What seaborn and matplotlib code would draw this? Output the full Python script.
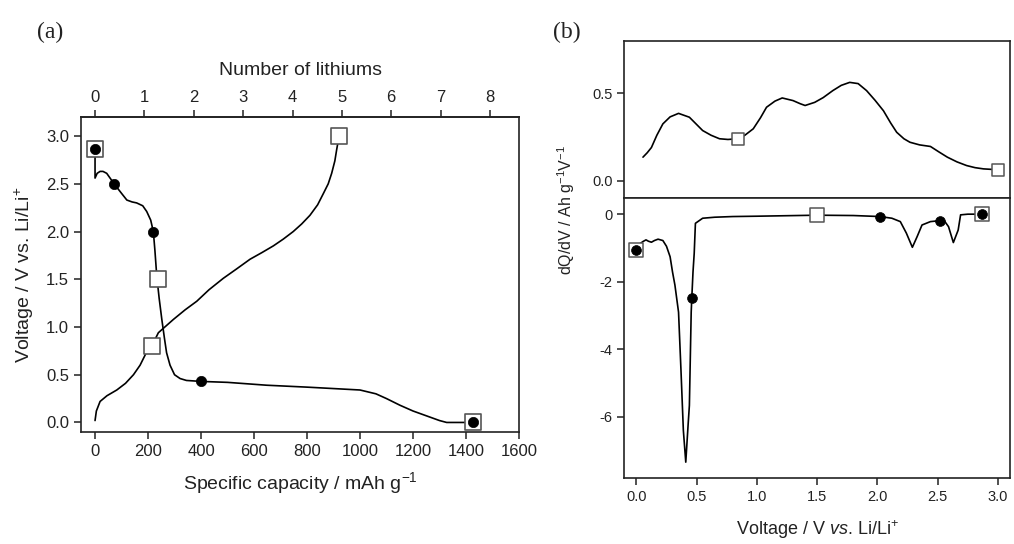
import matplotlib
matplotlib.use("Agg")
import matplotlib.pyplot as plt
import seaborn as sns
import numpy as np
import pandas as pd

# ---------------- data: panel (a) ----------------
dis_cap = [0, 0, 8, 19, 30, 44, 72, 100, 120, 140, 157, 180, 195, 210, 220, 226, 233, 242, 252, 262, 270, 283, 300, 321, 345, 400, 500, 648, 800, 900, 1000, 1060, 1100, 1151, 1200, 1260, 1300, 1327, 1380, 1427]
dis_v = [2.87, 2.56, 2.61, 2.63, 2.63, 2.61, 2.50, 2.40, 2.33, 2.31, 2.30, 2.27, 2.21, 2.12, 2.00, 1.80, 1.53, 1.30, 1.08, 0.88, 0.73, 0.60, 0.50, 0.46, 0.44, 0.43, 0.42, 0.39, 0.37, 0.355, 0.34, 0.30, 0.25, 0.18, 0.12, 0.06, 0.02, 0.0, 0.0, 0.0]

chg_cap = [0, 5, 19, 45, 82, 115, 145, 170, 195, 214, 239, 296, 340, 384, 430, 484, 535, 585, 630, 673, 710, 748, 780, 811, 840, 862, 880, 893, 905, 912, 921]
chg_v = [0.02, 0.12, 0.22, 0.28, 0.34, 0.41, 0.50, 0.60, 0.74, 0.80, 0.94, 1.08, 1.18, 1.27, 1.39, 1.51, 1.61, 1.71, 1.78, 1.85, 1.92, 2.00, 2.08, 2.17, 2.28, 2.40, 2.50, 2.61, 2.74, 2.86, 3.00]

a_sq_cap = [0, 214, 239, 921, 1427]
a_sq_v = [2.87, 0.80, 1.50, 3.00, 0.0]
a_ci_cap = [0, 72, 220, 400, 1427]
a_ci_v = [2.87, 2.50, 2.00, 0.43, 0.0]

cap_ticks = [0, 200, 400, 600, 800, 1000, 1200, 1400, 1600]
v_ticks = [0.0, 0.5, 1.0, 1.5, 2.0, 2.5, 3.0]
li_ticks = [0, 1, 2, 3, 4, 5, 6, 7, 8]
MAH_PER_LI = 186.3

# ---------------- data: panel (b) ----------------
chg_dv = [0.055, 0.09, 0.125, 0.17, 0.22, 0.28, 0.35, 0.44, 0.55, 0.62, 0.69, 0.76, 0.84, 0.90, 0.97, 1.03, 1.08, 1.15, 1.21, 1.30, 1.36, 1.40, 1.48, 1.55, 1.63, 1.70, 1.77, 1.84, 1.91, 1.98, 2.05, 2.11, 2.16, 2.22, 2.27, 2.35, 2.44, 2.51, 2.58, 2.66, 2.74, 2.81, 2.88, 3.00]
chg_dq = [0.135, 0.16, 0.19, 0.26, 0.325, 0.365, 0.385, 0.363, 0.287, 0.26, 0.24, 0.236, 0.24, 0.26, 0.297, 0.36, 0.42, 0.455, 0.473, 0.458, 0.44, 0.43, 0.448, 0.475, 0.515, 0.545, 0.562, 0.555, 0.515, 0.46, 0.40, 0.33, 0.277, 0.24, 0.22, 0.205, 0.196, 0.165, 0.135, 0.108, 0.087, 0.075, 0.068, 0.063]

dis_dv = [0.02, 0.055, 0.08, 0.10, 0.125, 0.15, 0.18, 0.22, 0.25, 0.28, 0.30, 0.32, 0.35, 0.37, 0.39, 0.41, 0.43, 0.44, 0.455, 0.46, 0.47, 0.48, 0.49, 0.55, 0.65, 0.80, 1.00, 1.50, 1.80, 2.02, 2.12, 2.19, 2.24, 2.29, 2.33, 2.37, 2.44, 2.52, 2.56, 2.59, 2.63, 2.67, 2.69, 2.75, 2.87]
dis_dq = [-0.90, -0.81, -0.76, -0.80, -0.83, -0.78, -0.74, -0.78, -0.95, -1.26, -1.71, -2.10, -2.90, -4.60, -6.40, -7.34, -6.20, -5.66, -2.90, -2.48, -1.71, -1.16, -0.27, -0.12, -0.09, -0.07, -0.06, -0.03, -0.04, -0.07, -0.12, -0.22, -0.56, -0.98, -0.66, -0.32, -0.22, -0.19, -0.22, -0.37, -0.84, -0.47, -0.02, 0.0, 0.0]

bt_sq_v = [0.84, 3.00]
bt_sq_dq = [0.24, 0.063]
bb_sq_v = [0.0, 1.50, 2.87]
bb_sq_dq = [-1.06, -0.03, 0.0]
bb_ci_v = [0.0, 0.46, 2.02, 2.52, 2.87]
bb_ci_dq = [-1.06, -2.48, -0.07, -0.19, 0.0]

volt_ticks = [0.0, 0.5, 1.0, 1.5, 2.0, 2.5, 3.0]
top_dq_ticks = [0.0, 0.5]
bot_dq_ticks = [0, -2, -4, -6]

# ---------------- styling ----------------
sns.set_theme(style="ticks")
plt.rcParams['font.family'] = ['Liberation Sans', 'DejaVu Sans']
plt.rcParams['mathtext.fontset'] = 'custom'
plt.rcParams['mathtext.rm'] = 'Liberation Sans'
plt.rcParams['mathtext.it'] = 'Liberation Sans:italic'
TXT = '#222222'
LW = 1.2

fig = plt.figure(figsize=(10.14, 5.44), dpi=100)
fig.patch.set_facecolor('white')

def style_ax(ax, fs):
    for s in ax.spines.values():
        s.set_visible(True)
        s.set_linewidth(1.2)
        s.set_color('#222222')
    ax.tick_params(direction='out', length=5, width=1.1, colors='#222222', labelsize=fs, labelcolor=TXT)
    ax.set_facecolor('white')
    ax.grid(False)

# ---------------- panel (a) ----------------
axa = fig.add_axes([81/1014, 1-432/544, (519-81)/1014, (432-117)/544])
df_d = pd.DataFrame({'cap': dis_cap, 'v': dis_v})
df_c = pd.DataFrame({'cap': chg_cap, 'v': chg_v})
sns.lineplot(data=df_d, x='cap', y='v', sort=False, estimator=None, color='black', lw=LW, ax=axa)
sns.lineplot(data=df_c, x='cap', y='v', sort=False, estimator=None, color='black', lw=LW, ax=axa)
sns.scatterplot(x=a_sq_cap, y=a_sq_v, marker='s', s=130, color='white', edgecolor='#555555', linewidth=1.2, ax=axa, zorder=5)
sns.scatterplot(x=a_ci_cap, y=a_ci_v, marker='o', s=55, color='black', edgecolor='black', linewidth=0.5, ax=axa, zorder=6)
axa.set_xlim(-53, 1600)
axa.set_ylim(-0.1, 3.2)
axa.set_xticks(cap_ticks)
axa.set_yticks(v_ticks)
axa.set_yticklabels([f"{t:.1f}" for t in v_ticks])
style_ax(axa, 12)
axa.tick_params(right=False)
axa.set_xlabel("Specific capacity / mAh g$^{\\mathrm{-1}}$", fontsize=14, color=TXT, labelpad=8)
axa.set_ylabel("Voltage / V vs. Li/Li$^{+}$", fontsize=14, color=TXT, labelpad=7)

sec = axa.secondary_xaxis('top', functions=(lambda x: x / MAH_PER_LI, lambda n: n * MAH_PER_LI))
sec.set_xticks(li_ticks)
sec.tick_params(direction='out', length=5, width=1.1, colors='#222222', labelsize=12, labelcolor=TXT)
sec.set_xlabel("Number of lithiums", fontsize=14, color=TXT, labelpad=11)

fig.text(50/1014, 1-32/544, "(a)", fontsize=17, family='Liberation Serif', ha='center', va='center', color=TXT)

# ---------------- panel (b) ----------------
L = 624.3/1014
W = (1010-624.3)/1014
axbt = fig.add_axes([L, 1-198.3/544, W, (198.3-40.7)/544])
axbb = fig.add_axes([L, 1-477.7/544, W, (477.7-198.3)/544], sharex=axbt)

sns.lineplot(x=chg_dv, y=chg_dq, sort=False, estimator=None, color='black', lw=LW, ax=axbt)
sns.scatterplot(x=bt_sq_v, y=bt_sq_dq, marker='s', s=70, color='white', edgecolor='#555555', linewidth=1.1, ax=axbt, zorder=5)
axbt.set_ylim(-0.1, 0.8)
axbt.set_yticks(top_dq_ticks)
axbt.set_yticklabels(["0.0", "0.5"])
style_ax(axbt, 10.5)
axbt.tick_params(axis='x', bottom=False, labelbottom=False)
axbt.tick_params(right=False, top=False)

sns.lineplot(x=dis_dv, y=dis_dq, sort=False, estimator=None, color='black', lw=LW, ax=axbb)
sns.scatterplot(x=bb_sq_v, y=bb_sq_dq, marker='s', s=110, color='white', edgecolor='#555555', linewidth=1.1, ax=axbb, zorder=5)
sns.scatterplot(x=bb_ci_v, y=bb_ci_dq, marker='o', s=50, color='black', edgecolor='black', linewidth=0.5, ax=axbb, zorder=6)
axbb.set_ylim(-7.8, 0.47)
axbb.set_yticks(bot_dq_ticks)
axbb.set_yticklabels([str(t) for t in bot_dq_ticks])
axbb.set_xlim(-0.1, 3.1)
axbb.set_xticks(volt_ticks)
axbb.set_xticklabels([f"{t:.1f}" for t in volt_ticks])
style_ax(axbb, 10.5)
axbb.tick_params(right=False, top=False)
axbt.set_xlabel("")
axbb.set_xlabel("Voltage / V $\\it{vs}$. Li/Li$^{+}$", fontsize=13, color=TXT, labelpad=11)
axbt.set_ylabel("")
axbb.set_ylabel("")

fig.text(566/1014, 1-210/544, "dQ/dV / Ah g$^{\\mathrm{-1}}$V$^{\\mathrm{-1}}$", rotation=90, fontsize=11.5, ha='center', va='center', color=TXT)
fig.text(567/1014, 1-32/544, "(b)", fontsize=17, family='Liberation Serif', ha='center', va='center', color=TXT)

fig.savefig("out.png", dpi=100, facecolor='white')
